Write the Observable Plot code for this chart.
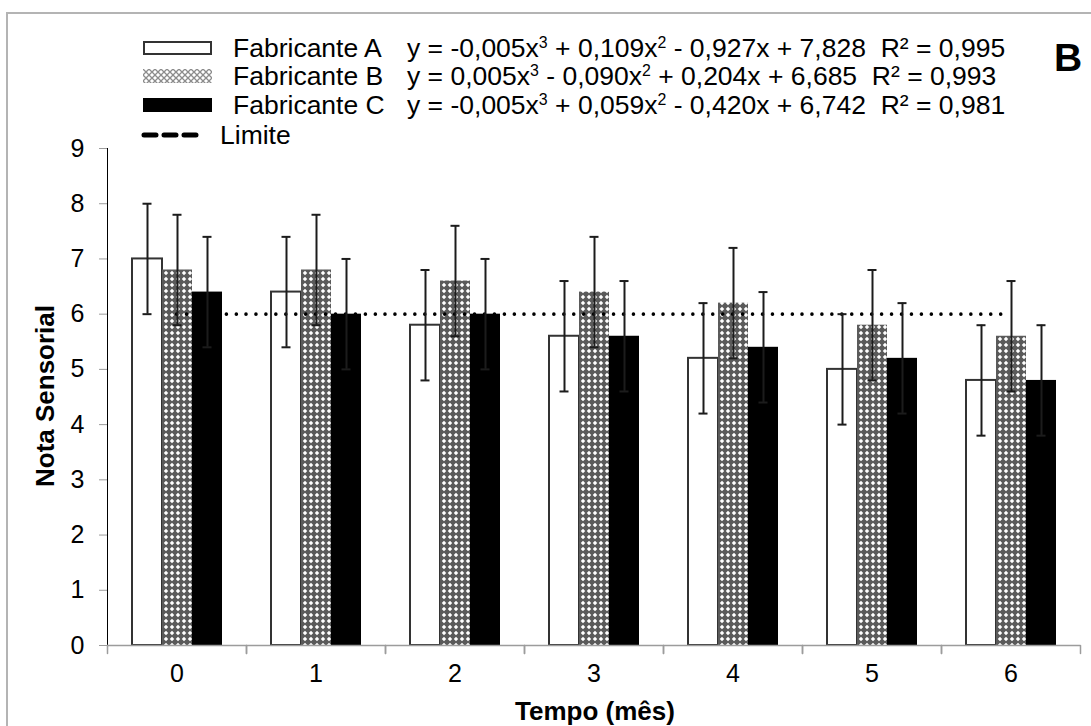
<!DOCTYPE html>
<html>
<head>
<meta charset="utf-8">
<script src="https://cdn.jsdelivr.net/npm/d3@7"></script>
<script src="https://cdn.jsdelivr.net/npm/@observablehq/plot@0.6"></script>
<style>
  html, body { margin: 0; padding: 0; background: #fff; }
  #fig { position: relative; width: 1091px; height: 726px; overflow: hidden; background: #fff;
         font-family: "Liberation Sans", Arial, sans-serif; color: #000; }
  #border { position: absolute; left: 6px; top: 12px; width: 1200px; height: 900px;
            border: 2px solid #b4b4b4; box-sizing: border-box; }
  #chart { position: absolute; left: 0; top: 0; }
  .row { position: absolute; left: 0; height: 28px; line-height: 28px; font-size: 26.5px; white-space: pre; }
  .row .sw { position: absolute; left: 143px; top: 7px; }
  .row .name { position: absolute; left: 233px; top: 0; }
  .row .eq { position: absolute; left: 407px; top: 0; }
  .sup { font-size: 0.6em; position: relative; top: -0.55em; }
  #panel { position: absolute; left: 1054px; top: 35px; font-size: 39px; font-weight: bold; line-height: 46px; }
  #ytitle { position: absolute; left: 45px; top: 396px; transform: translate(-50%, -50%) rotate(-90deg);
            font-size: 26px; font-weight: bold; white-space: nowrap; }
  #xtitle { position: absolute; left: 595px; top: 711px; transform: translate(-50%, -50%);
            font-size: 26px; font-weight: bold; white-space: nowrap; }
  #chart svg g[aria-label="y-axis tick"] { stroke: #9c9c9c; }
  #chart svg g[aria-label="y-axis tick"] path { stroke: #9c9c9c; }
</style>
</head>
<body>
<svg width="0" height="0" style="position:absolute">
  <defs>
    <pattern id="hatchB" width="6" height="6" patternUnits="userSpaceOnUse">
      <rect width="6" height="6" fill="#5a5a5a"></rect>
      <polygon points="3,0.8 5.2,3 3,5.2 0.8,3" fill="#ffffff"></polygon>
    </pattern>
    <pattern id="hatchLegend" width="6" height="6" patternUnits="userSpaceOnUse">
      <rect width="6" height="6" fill="#ffffff"></rect>
      <path d="M0,0L6,6M6,0L0,6" stroke="#8c8c8c" stroke-width="1.3"></path>
    </pattern>
  </defs>
</svg>
<div id="fig">
  <div id="border"></div>
  <div id="chart"></div>
  <div id="legend"></div>
  <div id="panel">B</div>
  <div id="ytitle">Nota Sensorial</div>
  <div id="xtitle">Tempo (mês)</div>
</div>
<script>
// ---- data ----
const months = [0, 1, 2, 3, 4, 5, 6];
const seriesKeys = ["A", "B", "C"];
const seriesNames = ["Fabricante A", "Fabricante B", "Fabricante C"];
const valuesA = [7.0, 6.4, 5.8, 5.6, 5.2, 5.0, 4.8];
const valuesB = [6.8, 6.8, 6.6, 6.4, 6.2, 5.8, 5.6];
const valuesC = [6.4, 6.0, 6.0, 5.6, 5.4, 5.2, 4.8];
const errA = [1, 1, 1, 1, 1, 1, 1];
const errB = [1, 1, 1, 1, 1, 1, 1];
const errC = [1, 1, 1, 1, 1, 1, 1];
const limite = 6;
const limiteName = "Limite";
const yTicks = [0, 1, 2, 3, 4, 5, 6, 7, 8, 9];
const equations = [
  ["y = -0,005x", "3", " + 0,109x", "2", " - 0,927x + 7,828  R² = 0,995"],
  ["y = 0,005x", "3", " - 0,090x", "2", " + 0,204x + 6,685  R² = 0,993"],
  ["y = -0,005x", "3", " + 0,059x", "2", " - 0,420x + 6,742  R² = 0,981"]
];

// ---- table ----
const valuesBySeries = {A: valuesA, B: valuesB, C: valuesC};
const errBySeries = {A: errA, B: errB, C: errC};
const rows = months.flatMap((m, i) =>
  seriesKeys.map(s => ({month: m, series: s, value: valuesBySeries[s][i], sd: errBySeries[s][i]})));
const limitRows = months.map(m => ({month: m, y: limite}));

const W = 1091, H = 726, mL = 106, mR = 10, mT = 148, mB = 81;
const halfFacet = (W - mL - mR) / months.length / 2;   // limit line runs from centre of first group to centre of last
const dotted = {stroke: "#000", strokeWidth: 3.6, strokeDasharray: "0 9.95", strokeLinecap: "round"};
const errStyle = {stroke: "#1c1c1c", strokeWidth: 2};

const chart = Plot.plot({
  width: W,
  height: H,
  marginTop: mT,
  marginBottom: mB,
  marginLeft: mL,
  marginRight: mR,
  style: {fontFamily: '"Liberation Sans", Arial, sans-serif', fontSize: "25px", color: "#000", background: "transparent", overflow: "visible"},
  fx: {domain: months, padding: 0, label: null, tickSize: 0, tickPadding: 19},
  x: {domain: seriesKeys, paddingInner: 0, paddingOuter: 0.76, axis: null},
  y: {domain: [0, 9], ticks: yTicks, tickSize: 8, tickPadding: 15, label: null, line: true},
  marks: [
    Plot.barY(rows.filter(d => d.series === "A"), {fx: "month", x: "series", y: "value", fill: "#fff", stroke: "#333", strokeWidth: 2}),
    Plot.barY(rows.filter(d => d.series === "B"), {fx: "month", x: "series", y: "value", fill: "url(#hatchB)"}),
    Plot.barY(rows.filter(d => d.series === "C"), {fx: "month", x: "series", y: "value", fill: "#000"}),
    Plot.ruleY(limitRows.slice(1, -1), {fx: "month", y: "y", ...dotted}),
    Plot.ruleY(limitRows.slice(0, 1), {fx: "month", y: "y", insetLeft: halfFacet, ...dotted}),
    Plot.ruleY(limitRows.slice(-1), {fx: "month", y: "y", insetRight: halfFacet, ...dotted}),
    Plot.ruleX(rows, {fx: "month", x: "series", y1: d => d.value - d.sd, y2: d => d.value + d.sd, ...errStyle}),
    Plot.tickY(rows, {fx: "month", x: "series", y: d => d.value + d.sd, insetLeft: 10.5, insetRight: 10.5, ...errStyle}),
    Plot.tickY(rows, {fx: "month", x: "series", y: d => d.value - d.sd, insetLeft: 10.5, insetRight: 10.5, ...errStyle}),
    Plot.ruleY([0], {stroke: "#9c9c9c", strokeWidth: 1.5}),
    Plot.vector([0], {frameAnchor: "bottom-left", length: 8, rotate: 180, anchor: "start", r: 0, stroke: "#9c9c9c", strokeWidth: 1.5}),
    Plot.vector([0], {frameAnchor: "bottom-right", length: 8, rotate: 180, anchor: "start", r: 0, stroke: "#9c9c9c", strokeWidth: 1.5})
  ]
});
document.getElementById("chart").appendChild(chart);

// ---- legend ----
const legend = document.getElementById("legend");
const rowCenters = [48, 76, 105, 135];
const swatchFill = ['<rect x="1" y="1" width="67" height="12" fill="#fff" stroke="#333" stroke-width="2"/>',
                    '<rect x="0" y="0" width="69" height="14" fill="url(#hatchLegend)"/>',
                    '<rect x="0" y="0" width="69" height="14" fill="#000"/>'];
seriesNames.forEach((name, i) => {
  const row = document.createElement("div");
  row.className = "row";
  row.style.top = (rowCenters[i] - 14) + "px";
  const eq = equations[i];
  row.innerHTML =
    '<svg class="sw" width="69" height="14">' + swatchFill[i] + '</svg>' +
    '<span class="name"></span><span class="eq"></span>';
  row.querySelector(".name").textContent = name;
  const eqEl = row.querySelector(".eq");
  eq.forEach((part, k) => {
    const s = document.createElement("span");
    if (k % 2 === 1) s.className = "sup";
    s.textContent = part;
    eqEl.appendChild(s);
  });
  legend.appendChild(row);
});
const lrow = document.createElement("div");
lrow.className = "row";
lrow.style.top = (rowCenters[3] - 14) + "px";
lrow.innerHTML = '<svg class="sw" width="62" height="14" style="left:140px"><line x1="4" y1="7" x2="58" y2="7" stroke="#000" stroke-width="5" stroke-dasharray="12 8" stroke-linecap="round"/></svg><span class="name" style="left:220px"></span>';
lrow.querySelector(".name").textContent = limiteName;
legend.appendChild(lrow);
</script>
</body>
</html>
